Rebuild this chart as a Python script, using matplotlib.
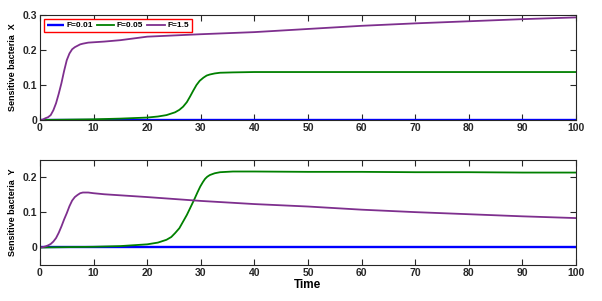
import matplotlib
matplotlib.use("Agg")
import matplotlib.pyplot as plt

# ---- data ----
t_purple = [0, 0.5, 1, 1.5, 2, 2.5, 3, 3.5, 4, 4.5, 5, 5.5, 6, 6.5, 7, 7.5, 8, 9, 10, 12, 15,
            20, 30, 40, 50, 60, 70, 80, 90, 100]
x_purple = [0, 0.001, 0.005, 0.008, 0.014, 0.028, 0.048, 0.075, 0.105, 0.140, 0.171, 0.190,
            0.202, 0.208, 0.212, 0.216, 0.218, 0.221, 0.222, 0.224, 0.228,
            0.238, 0.245, 0.251, 0.260, 0.269, 0.276, 0.282, 0.288, 0.293]
y_purple = [0, 0.001, 0.003, 0.006, 0.010, 0.017, 0.027, 0.042, 0.060, 0.080, 0.098, 0.118,
            0.134, 0.144, 0.150, 0.155, 0.157, 0.157, 0.155, 0.152, 0.149,
            0.144, 0.133, 0.124, 0.117, 0.108, 0.101, 0.095, 0.089, 0.084]

t_green_x = [0, 5, 10, 15, 20, 22, 23.6, 25.2, 26, 26.7, 27.4, 28, 28.6, 29.2, 29.8, 30.5,
             31.1, 31.7, 32.6, 33.6, 36, 40, 50, 60, 70, 80, 90, 100]
x_green = [0, 0.001, 0.002, 0.004, 0.007, 0.010, 0.014, 0.022, 0.029, 0.038, 0.051, 0.067,
           0.084, 0.100, 0.112, 0.121, 0.127, 0.130, 0.133, 0.135, 0.136, 0.137, 0.137,
           0.137, 0.137, 0.137, 0.137, 0.137]

t_green_y = [0, 5, 10, 15, 20, 22, 23.6, 24.5, 25.2, 26, 26.7, 27.4, 28, 28.5, 28.9, 29.4,
             29.9, 30.4, 30.8, 31.2, 31.7, 32.6, 33.6, 36, 40, 50, 60, 70, 80, 90, 100]
y_green = [0, 0.001, 0.002, 0.004, 0.009, 0.014, 0.022, 0.030, 0.041, 0.055, 0.074, 0.093,
           0.112, 0.128, 0.141, 0.158, 0.174, 0.187, 0.196, 0.202, 0.207, 0.212, 0.215,
           0.217, 0.217, 0.216, 0.216, 0.215, 0.215, 0.214, 0.214]

t_blue = [0, 100]
x_blue = [0, 0]
y_blue = [0, 0]

labels = ["F=0.01", "F=0.05", "F=1.5"]
colors = ["#0000ff", "#008000", "#7e2f8e"]

xticks = [0, 10, 20, 30, 40, 50, 60, 70, 80, 90, 100]
yticks_top = [0, 0.1, 0.2, 0.3]
yticks_bot = [0, 0.1, 0.2]

plt.rcParams['font.family'] = ['Liberation Sans', 'DejaVu Sans']

fig = plt.figure(figsize=(6.02, 3.01), dpi=100)
ax1 = fig.add_axes([0.0664, 0.6013, 0.8904, 0.349])
ax2 = fig.add_axes([0.0664, 0.1196, 0.8904, 0.349])

lw = 1.3
for ax, yb, tg, yg, yp in [(ax1, x_blue, t_green_x, x_green, x_purple),
                           (ax2, y_blue, t_green_y, y_green, y_purple)]:
    ax.plot(t_blue, yb, color=colors[0], lw=lw+0.4, label=labels[0], solid_capstyle='butt')
    ax.plot(tg, yg, color=colors[1], lw=lw, label=labels[1])
    ax.plot(t_purple, yp, color=colors[2], lw=lw, label=labels[2])
    ax.set_xlim(0, 100)
    ax.set_xticks(xticks)
    ax.tick_params(direction='in', top=True, right=True, length=4, width=0.8,
                   labelsize=7.5, pad=2, colors='#262626')
    for s in ax.spines.values():
        s.set_color('#262626')
        s.set_linewidth(0.8)

ax1.set_ylim(0, 0.3)
ax1.set_yticks(yticks_top)
ax1.set_yticklabels(["0", "0.1", "0.2", "0.3"])
ax2.set_ylim(-0.05, 0.25)
ax2.set_yticks(yticks_bot)
ax2.set_yticklabels(["0", "0.1", "0.2"])
for ax in (ax1, ax2):
    for lab in ax.get_xticklabels() + ax.get_yticklabels():
        lab.set_fontweight('bold')

ax1.set_ylabel("Sensitive bacteria  X", fontsize=6.5, fontweight='bold', labelpad=4)
ax2.set_ylabel("Sensitive bacteria  Y", fontsize=6.5, fontweight='bold', labelpad=4)
ax2.set_xlabel("Time", fontsize=8.5, fontweight='bold', labelpad=1)

leg = ax1.legend(loc='upper left', ncol=3, frameon=True, fancybox=False,
                 borderpad=0.35, handlelength=2.1, handletextpad=0.3, columnspacing=0.45,
                 borderaxespad=0.45, prop={'weight': 'bold', 'size': 6})
leg.get_frame().set_edgecolor('red')
leg.get_frame().set_linewidth(1.0)
leg.get_frame().set_alpha(1)

fig.savefig("out.png", dpi=100)
